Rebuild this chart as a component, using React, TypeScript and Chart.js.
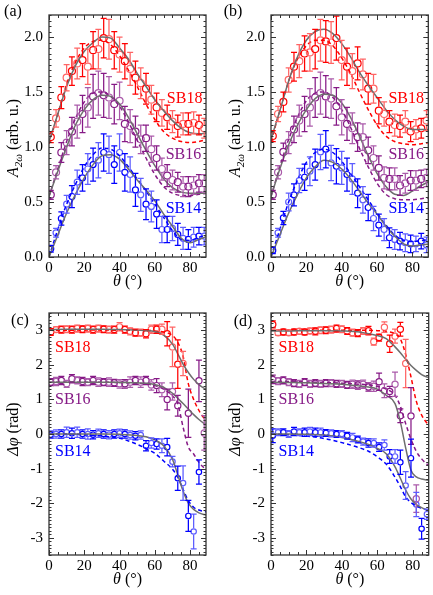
import React, { useEffect, useRef } from "react";
import { Chart, registerables } from "chart.js";
Chart.register(...registerables);

const SERIF = "'Liberation Serif', 'Times New Roman', Times, serif";

// ---------- shared axes ----------
const THETA = [1, 4, 7, 10, 13, 16, 19, 22, 25, 28, 31, 34, 37, 40, 43, 46, 49, 52, 55, 58, 61, 64, 67, 70, 73, 76, 79, 82, 85, 88];
const FIT_THETA_AMP = [0, 5, 10, 15, 20, 25, 30, 35, 40, 45, 50, 55, 60, 65, 70, 75, 80, 85, 90];
const FIT_THETA_PHASE = [0, 10, 20, 30, 40, 50, 55, 60, 65, 70, 73, 76, 79, 82, 85, 88, 90];
const THETA_TICKS = [0, 20, 40, 60, 80];
const AMP_TICKS = [0, 0.5, 1.0, 1.5, 2.0];
const PHASE_TICKS = [-3, -2, -1, 0, 1, 2, 3];

// ---------- panel (a) ----------
const A_SB18 = [1.09, 1.26, 1.45, 1.63, 1.69, 1.76, 1.79, 1.73, 1.88, 1.89, 1.99, 1.98, 1.88, 1.84, 1.78, 1.71, 1.63, 1.58, 1.53, 1.43, 1.36, 1.31, 1.27, 1.23, 1.19, 1.21, 1.21, 1.22, 1.2, 1.17];
const A_SB18_ERR = [0.05, 0.08, 0.1, 0.12, 0.13, 0.14, 0.15, 0.16, 0.17, 0.18, 0.18, 0.18, 0.17, 0.16, 0.16, 0.15, 0.15, 0.14, 0.14, 0.13, 0.13, 0.12, 0.11, 0.1, 0.1, 0.1, 0.1, 0.1, 0.09, 0.09];
const A_SB16 = [0.565, 0.77, 0.95, 1.04, 1.14, 1.23, 1.3, 1.36, 1.46, 1.49, 1.47, 1.45, 1.39, 1.42, 1.21, 1.19, 1.14, 1.07, 1.08, 0.98, 0.9, 0.8, 0.74, 0.7, 0.68, 0.64, 0.64, 0.65, 0.67, 0.67];
const A_SB16_ERR = [0.04, 0.06, 0.09, 0.11, 0.13, 0.15, 0.17, 0.18, 0.2, 0.2, 0.2, 0.19, 0.18, 0.17, 0.16, 0.15, 0.14, 0.13, 0.12, 0.12, 0.11, 0.1, 0.1, 0.09, 0.09, 0.09, 0.09, 0.08, 0.08, 0.08];
const A_SB14 = [0.075, 0.22, 0.35, 0.48, 0.55, 0.68, 0.72, 0.8, 0.84, 0.88, 0.95, 0.93, 0.84, 0.95, 0.77, 0.75, 0.61, 0.565, 0.48, 0.46, 0.39, 0.25, 0.25, 0.26, 0.205, 0.17, 0.16, 0.18, 0.19, 0.19];
const A_SB14_ERR = [0.03, 0.04, 0.06, 0.08, 0.1, 0.11, 0.12, 0.14, 0.15, 0.16, 0.17, 0.17, 0.17, 0.17, 0.17, 0.16, 0.15, 0.15, 0.14, 0.14, 0.13, 0.12, 0.12, 0.11, 0.1, 0.1, 0.09, 0.09, 0.08, 0.08];
const A_SB18_FIT = [1.05, 1.3, 1.55, 1.74, 1.87, 1.95, 2.0, 1.99, 1.9, 1.8, 1.67, 1.55, 1.43, 1.33, 1.24, 1.17, 1.13, 1.12, 1.13];
const A_SB18_MODEL = [1.03, 1.3, 1.57, 1.77, 1.9, 1.96, 1.97, 1.93, 1.83, 1.7, 1.55, 1.39, 1.25, 1.14, 1.08, 1.05, 1.04, 1.05, 1.07];
const A_SB16_FIT = [0.55, 0.78, 1.0, 1.2, 1.34, 1.43, 1.47, 1.46, 1.39, 1.27, 1.12, 0.97, 0.83, 0.71, 0.63, 0.59, 0.58, 0.58, 0.58];
const A_SB16_MODEL = [0.55, 0.8, 1.05, 1.26, 1.41, 1.49, 1.5, 1.46, 1.37, 1.23, 1.06, 0.9, 0.75, 0.64, 0.58, 0.56, 0.56, 0.57, 0.58];
const A_SB14_FIT = [0.0, 0.2, 0.4, 0.57, 0.72, 0.84, 0.92, 0.93, 0.89, 0.8, 0.7, 0.61, 0.51, 0.39, 0.28, 0.17, 0.13, 0.16, 0.19];
const A_SB14_MODEL = [0.0, 0.25, 0.48, 0.66, 0.82, 0.93, 0.99, 0.98, 0.92, 0.82, 0.71, 0.6, 0.48, 0.36, 0.24, 0.16, 0.15, 0.18, 0.2];

// ---------- panel (b) ----------
const B_SB18 = [1.1, 1.3, 1.41, 1.61, 1.73, 1.78, 1.85, 1.86, 1.89, 1.97, 1.96, 1.95, 1.99, 1.79, 1.73, 1.69, 1.76, 1.66, 1.53, 1.53, 1.33, 1.3, 1.23, 1.2, 1.19, 1.23, 1.14, 1.16, 1.17, 1.24];
const B_SB18_ERR = [0.05, 0.07, 0.09, 0.11, 0.13, 0.15, 0.16, 0.17, 0.18, 0.19, 0.19, 0.19, 0.2, 0.18, 0.17, 0.16, 0.15, 0.14, 0.14, 0.13, 0.12, 0.11, 0.1, 0.1, 0.1, 0.1, 0.09, 0.09, 0.09, 0.09];
const B_SB16 = [0.565, 0.77, 0.955, 1.04, 1.16, 1.24, 1.3, 1.36, 1.45, 1.49, 1.46, 1.44, 1.37, 1.27, 1.21, 1.17, 1.09, 1.09, 0.97, 0.9, 0.81, 0.72, 0.71, 0.71, 0.65, 0.67, 0.695, 0.695, 0.71, 0.72];
const B_SB16_ERR = [0.04, 0.06, 0.08, 0.1, 0.12, 0.14, 0.16, 0.17, 0.18, 0.19, 0.19, 0.18, 0.17, 0.16, 0.15, 0.14, 0.13, 0.12, 0.12, 0.11, 0.11, 0.1, 0.1, 0.1, 0.09, 0.09, 0.09, 0.09, 0.08, 0.08];
const B_SB14 = [0.06, 0.22, 0.355, 0.5, 0.565, 0.695, 0.725, 0.78, 0.84, 0.955, 0.98, 0.855, 0.825, 0.81, 0.75, 0.71, 0.58, 0.52, 0.45, 0.35, 0.29, 0.25, 0.175, 0.16, 0.145, 0.13, 0.12, 0.12, 0.145, 0.11];
const B_SB14_ERR = [0.03, 0.04, 0.06, 0.08, 0.1, 0.11, 0.12, 0.13, 0.14, 0.16, 0.17, 0.16, 0.16, 0.15, 0.15, 0.14, 0.13, 0.12, 0.12, 0.11, 0.1, 0.1, 0.09, 0.09, 0.08, 0.08, 0.08, 0.07, 0.07, 0.07];
const B_SB18_FIT = [1.07, 1.33, 1.6, 1.82, 1.97, 2.05, 2.07, 2.03, 1.94, 1.82, 1.68, 1.56, 1.45, 1.34, 1.25, 1.19, 1.16, 1.16, 1.16];
const B_SB18_MODEL = [1.05, 1.33, 1.6, 1.8, 1.92, 1.97, 1.97, 1.92, 1.81, 1.67, 1.5, 1.34, 1.2, 1.1, 1.05, 1.03, 1.02, 1.03, 1.04];
const B_SB16_FIT = [0.55, 0.8, 1.02, 1.2, 1.34, 1.44, 1.48, 1.47, 1.4, 1.27, 1.1, 0.92, 0.76, 0.64, 0.57, 0.56, 0.6, 0.65, 0.69];
const B_SB16_MODEL = [0.55, 0.82, 1.07, 1.27, 1.42, 1.49, 1.5, 1.45, 1.34, 1.18, 0.99, 0.82, 0.67, 0.57, 0.53, 0.52, 0.52, 0.53, 0.54];
const B_SB14_FIT = [0.0, 0.2, 0.4, 0.57, 0.72, 0.82, 0.88, 0.86, 0.8, 0.71, 0.6, 0.49, 0.39, 0.28, 0.19, 0.12, 0.1, 0.11, 0.12];
const B_SB14_MODEL = [0.0, 0.25, 0.5, 0.7, 0.86, 0.95, 0.98, 0.95, 0.87, 0.76, 0.64, 0.52, 0.4, 0.29, 0.2, 0.15, 0.14, 0.15, 0.16];

// ---------- panel (c) ----------
const C_SB18 = [2.95, 3.02, 3.02, 3.03, 3.02, 3.05, 3.03, 3.05, 3.02, 3.05, 3.03, 3.02, 3.02, 3.1, 3.02, 2.97, 2.93, 2.93, 2.9, 3.03, 3.03, 3.03, 2.9, 2.52, 2.02, 2.04, null, null, null, null];
const C_SB18_ERR = [0.1, 0.08, 0.1, 0.1, 0.1, 0.1, 0.1, 0.1, 0.1, 0.1, 0.1, 0.1, 0.1, 0.12, 0.1, 0.1, 0.1, 0.1, 0.12, 0.12, 0.12, 0.15, 0.35, 0.57, 0.7, 0.35, null, null, null, null];
const C_SB16 = [1.5, 1.52, 1.55, 1.45, 1.6, 1.55, 1.52, 1.5, 1.55, 1.5, 1.5, 1.5, 1.48, 1.45, 1.45, 1.5, 1.55, 1.5, 1.55, 1.42, 1.4, 1.28, 1.0, 1.23, 0.82, null, 0.6, null, 1.54, 0.03];
const C_SB16_ERR = [0.1, 0.12, 0.12, 0.1, 0.12, 0.1, 0.12, 0.1, 0.12, 0.12, 0.1, 0.12, 0.1, 0.12, 0.12, 0.15, 0.12, 0.15, 0.12, 0.15, 0.2, 0.2, 0.3, 0.25, 0.3, null, 0.7, null, 0.6, 0.5];
const C_SB14 = [-0.02, 0.0, 0.0, 0.05, 0.02, 0.05, 0.0, 0.0, -0.02, 0.02, 0.0, -0.02, 0.0, 0.02, 0.0, -0.03, -0.05, -0.03, -0.34, -0.26, -0.29, -0.34, -0.38, -0.8, -1.28, -1.42, -2.37, -2.82, -1.1, null];
const C_SB14_ERR = [0.1, 0.12, 0.12, 0.15, 0.15, 0.15, 0.12, 0.15, 0.12, 0.12, 0.12, 0.12, 0.12, 0.12, 0.12, 0.12, 0.12, 0.12, 0.15, 0.15, 0.15, 0.2, 0.25, 0.15, 0.35, 0.5, 0.45, 0.5, 0.35, null];
const C_SB18_FIT = [3.02, 3.03, 3.03, 3.03, 3.02, 3.01, 2.99, 2.96, 2.86, 2.6, 2.32, 2.02, 1.78, 1.58, 1.43, 1.32, 1.27];
const C_SB18_MODEL = [3.0, 3.0, 3.01, 3.01, 3.0, 3.0, 3.0, 2.98, 2.95, 2.85, 2.65, 2.25, 1.45, 1.0, 0.68, 0.45, 0.35];
const C_SB16_FIT = [1.5, 1.5, 1.5, 1.5, 1.49, 1.48, 1.47, 1.43, 1.35, 1.18, 1.03, 0.88, 0.72, 0.56, 0.42, 0.3, 0.24];
const C_SB16_MODEL = [1.5, 1.5, 1.5, 1.5, 1.49, 1.47, 1.45, 1.4, 1.3, 1.1, 0.88, 0.2, -0.38, -0.58, -0.82, -0.98, -1.02];
const C_SB14_FIT = [0.0, 0.0, 0.0, 0.0, -0.01, -0.04, -0.08, -0.17, -0.34, -0.73, -1.18, -1.65, -2.0, -2.18, -2.28, -2.33, -2.35];
const C_SB14_MODEL = [0.0, 0.0, -0.02, -0.06, -0.12, -0.3, -0.42, -0.56, -0.78, -1.02, -1.25, -1.6, -1.93, -2.12, -2.2, -2.24, -2.25];

// ---------- panel (d) ----------
const D_SB18 = [3.17, 2.93, 2.95, 2.93, 2.95, 2.97, 2.95, 2.98, 2.97, 3.0, 3.0, 3.02, 3.05, 3.03, 2.98, 2.93, 2.92, 2.98, 2.99, 2.67, 2.79, 3.09, 2.61, 2.83, 3.03, 2.04, null, null, null, null];
const D_SB18_ERR = [0.1, 0.08, 0.08, 0.08, 0.08, 0.08, 0.08, 0.08, 0.1, 0.1, 0.1, 0.1, 0.1, 0.1, 0.1, 0.1, 0.1, 0.1, 0.12, 0.1, 0.1, 0.15, 0.25, 0.2, 0.2, 0.7, null, null, null, null];
const D_SB16 = [1.58, 1.53, 1.55, 1.5, 1.47, 1.45, 1.5, 1.45, 1.47, 1.45, 1.47, 1.47, 1.45, 1.45, 1.42, 1.44, 1.42, 1.44, 1.36, 1.38, 1.51, 1.25, 1.23, 1.44, 0.53, null, 0.52, -1.87, null, null];
const D_SB16_ERR = [0.12, 0.1, 0.1, 0.1, 0.1, 0.1, 0.1, 0.1, 0.1, 0.1, 0.1, 0.1, 0.1, 0.1, 0.1, 0.12, 0.12, 0.12, 0.12, 0.15, 0.25, 0.2, 0.15, 0.35, 0.2, null, 0.82, 0.4, null, null];
const D_SB14 = [-0.05, 0.05, 0.05, 0.0, 0.07, 0.05, 0.05, 0.07, 0.05, 0.05, 0.03, 0.02, 0.0, 0.0, -0.05, -0.1, -0.16, -0.22, -0.26, -0.26, -0.38, -0.32, -0.65, -0.65, -0.82, -1.49, -0.7, -2.04, -2.74, -2.32];
const D_SB14_ERR = [0.2, 0.1, 0.1, 0.1, 0.12, 0.1, 0.12, 0.12, 0.12, 0.12, 0.1, 0.1, 0.1, 0.1, 0.1, 0.12, 0.1, 0.1, 0.12, 0.12, 0.12, 0.15, 0.2, 0.2, 0.35, 0.4, 0.55, 0.35, 0.3, 0.15];
const D_SB18_FIT = [2.98, 2.98, 2.99, 2.99, 2.98, 2.95, 2.9, 2.85, 2.76, 2.52, 2.35, 2.16, 1.98, 1.84, 1.72, 1.65, 1.62];
const D_SB18_MODEL = [3.0, 3.0, 3.0, 3.0, 3.0, 3.0, 3.0, 2.99, 2.97, 2.9, 2.75, 2.3, 1.65, 0.95, 0.55, 0.32, 0.24];
const D_SB16_FIT = [1.5, 1.49, 1.48, 1.46, 1.44, 1.39, 1.36, 1.3, 1.12, 0.88, 0.35, -0.4, -1.05, -1.24, -1.3, -1.33, -1.35];
const D_SB16_MODEL = [1.52, 1.52, 1.5, 1.49, 1.47, 1.44, 1.42, 1.38, 1.3, 1.12, 0.8, 0.3, -0.15, -0.5, -0.72, -0.87, -0.93];
const D_SB14_FIT = [0.0, 0.0, -0.01, -0.03, -0.1, -0.22, -0.3, -0.42, -0.57, -0.95, -1.28, -1.62, -1.88, -2.04, -2.13, -2.19, -2.21];
const D_SB14_MODEL = [0.0, -0.02, -0.06, -0.13, -0.25, -0.4, -0.5, -0.66, -0.87, -1.25, -1.52, -1.82, -1.98, -2.08, -2.15, -2.2, -2.22];

// ---------- styles ----------
const RED = "#ff0000";
const RED_LIGHT = "#ff6464";
const PURPLE = "#861a86";
const PURPLE_LIGHT = "#aa5aaa";
const BLUE = "#0000ff";
const BLUE_LIGHT = "#5c5cff";
const FIT_GRAY = "#6e6e6e";

type Series = {
  name: string;
  vals: (number | null)[];
  errs: (number | null)[];
  fit: number[];
  model: number[];
  dark: string;
  light: string;
  radius: number;
  labelAt: [number, number];
};

type PanelCfg = {
  letter: string;
  left: number;
  top: number;
  w: number;
  h: number;
  padTop: number;
  padRight: number;
  axisW: number;
  kind: "amp" | "phase";
  letterPos: [number, number];
  series: Series[];
};

function mk(name: string, vals: (number | null)[], errs: (number | null)[], fit: number[], model: number[], dark: string, light: string, radius: number, labelAt: [number, number]): Series {
  return { name, vals, errs, fit, model, dark, light, radius, labelAt };
}

const PANELS: PanelCfg[] = [
  {
    letter: "(a)", left: 0, top: 0, w: 216, h: 297, padTop: 3, padRight: 10, axisW: 49, kind: "amp", letterPos: [13, 12],
    series: [
      mk("SB18", A_SB18, A_SB18_ERR, A_SB18_FIT, A_SB18_MODEL, RED, RED_LIGHT, 3.5, [76.9, 1.44]),
      mk("SB16", A_SB16, A_SB16_ERR, A_SB16_FIT, A_SB16_MODEL, PURPLE, PURPLE_LIGHT, 3.5, [76.2, 0.93]),
      mk("SB14", A_SB14, A_SB14_ERR, A_SB14_FIT, A_SB14_MODEL, BLUE, BLUE_LIGHT, 3.0, [76.2, 0.44]),
    ],
  },
  {
    letter: "(b)", left: 216, top: 0, w: 217, h: 297, padTop: 3, padRight: 4, axisW: 55, kind: "amp", letterPos: [17, 12],
    series: [
      mk("SB18", B_SB18, B_SB18_ERR, B_SB18_FIT, B_SB18_MODEL, RED, RED_LIGHT, 3.5, [76.5, 1.44]),
      mk("SB16", B_SB16, B_SB16_ERR, B_SB16_FIT, B_SB16_MODEL, PURPLE, PURPLE_LIGHT, 3.5, [76.5, 0.93]),
      mk("SB14", B_SB14, B_SB14_ERR, B_SB14_FIT, B_SB14_MODEL, BLUE, BLUE_LIGHT, 3.0, [76.5, 0.44]),
    ],
  },
  {
    letter: "(c)", left: 0, top: 297, w: 216, h: 298, padTop: 16, padRight: 10, axisW: 49, kind: "phase", letterPos: [20, 24],
    series: [
      mk("SB18", C_SB18, C_SB18_ERR, C_SB18_FIT, C_SB18_MODEL, RED, RED_LIGHT, 3.1, [13.5, 2.49]),
      mk("SB16", C_SB16, C_SB16_ERR, C_SB16_FIT, C_SB16_MODEL, PURPLE, PURPLE_LIGHT, 3.1, [13.5, 0.98]),
      mk("SB14", C_SB14, C_SB14_ERR, C_SB14_FIT, C_SB14_MODEL, BLUE, BLUE_LIGHT, 2.7, [13.5, -0.52]),
    ],
  },
  {
    letter: "(d)", left: 216, top: 297, w: 217, h: 298, padTop: 16, padRight: 4, axisW: 55, kind: "phase", letterPos: [27, 25],
    series: [
      mk("SB18", D_SB18, D_SB18_ERR, D_SB18_FIT, D_SB18_MODEL, RED, RED_LIGHT, 3.1, [14.3, 2.49]),
      mk("SB16", D_SB16, D_SB16_ERR, D_SB16_FIT, D_SB16_MODEL, PURPLE, PURPLE_LIGHT, 3.1, [14.3, 0.98]),
      mk("SB14", D_SB14, D_SB14_ERR, D_SB14_FIT, D_SB14_MODEL, BLUE, BLUE_LIGHT, 2.7, [14.3, -0.52]),
    ],
  },
];

function range(a: number, b: number, step: number): number[] {
  const out: number[] = [];
  const n = Math.round((b - a) / step);
  for (let i = 0; i <= n; i++) out.push(+(a + i * step).toFixed(4));
  return out;
}

type Seg = { t: string; italic?: boolean; size: number; dy?: number };

function drawSegs(ctx: CanvasRenderingContext2D, segs: Seg[], cx: number, cy: number) {
  let total = 0;
  segs.forEach((s) => {
    ctx.font = `${s.italic ? "italic " : ""}${s.size}px ${SERIF}`;
    total += ctx.measureText(s.t).width;
  });
  let x = cx - total / 2;
  ctx.textAlign = "left";
  ctx.textBaseline = "alphabetic";
  segs.forEach((s) => {
    ctx.font = `${s.italic ? "italic " : ""}${s.size}px ${SERIF}`;
    ctx.fillText(s.t, x, cy + 5 + (s.dy || 0));
    x += ctx.measureText(s.t).width;
  });
}

const errorBarPlugin = {
  id: "errorBars",
  afterDatasetsDraw(chart: any) {
    const { ctx, chartArea: a } = chart;
    const ys = chart.scales.y;
    ctx.save();
    ctx.beginPath();
    ctx.rect(a.left, a.top, a.right - a.left, a.bottom - a.top);
    ctx.clip();
    chart.data.datasets.forEach((ds: any, di: number) => {
      if (!ds.errorBars) return;
      const meta = chart.getDatasetMeta(di);
      const r = ds.pointRadius + 0.6;
      meta.data.forEach((el: any, i: number) => {
        const raw = ds.data[i];
        if (!raw || raw.e == null) return;
        const x = el.x;
        const y = el.y;
        const yt = ys.getPixelForValue(raw.y + raw.e);
        const yb = ys.getPixelForValue(raw.y - raw.e);
        ctx.strokeStyle = raw.c;
        ctx.lineWidth = 1.25;
        ctx.beginPath();
        if (y - r > yt) { ctx.moveTo(x, yt); ctx.lineTo(x, y - r); }
        if (y + r < yb) { ctx.moveTo(x, y + r); ctx.lineTo(x, yb); }
        ctx.moveTo(x - 3, yt); ctx.lineTo(x + 3, yt);
        ctx.moveTo(x - 3, yb); ctx.lineTo(x + 3, yb);
        ctx.stroke();
      });
    });
    ctx.restore();
  },
};

const decorPlugin = {
  id: "decor",
  afterDraw(chart: any, _args: any, opts: any) {
    const { ctx, chartArea: a } = chart;
    const xs = chart.scales.x;
    const ys = chart.scales.y;
    ctx.save();
    ctx.strokeStyle = "#333";
    ctx.lineWidth = 1.3;
    ctx.strokeRect(a.left, a.top, a.right - a.left, a.bottom - a.top);
    ctx.lineWidth = 1;
    ctx.beginPath();
    opts.xMinor.forEach((v: number) => {
      const p = Math.round(xs.getPixelForValue(v)) + 0.5;
      const L = opts.xMajor.includes(v) ? 5 : 3;
      ctx.moveTo(p, a.bottom); ctx.lineTo(p, a.bottom - L);
      ctx.moveTo(p, a.top); ctx.lineTo(p, a.top + L);
    });
    opts.yMinor.forEach((v: number) => {
      const p = Math.round(ys.getPixelForValue(v)) + 0.5;
      const L = opts.yMajor.some((m: number) => Math.abs(m - v) < 1e-6) ? 5 : 2.5;
      ctx.moveTo(a.left, p); ctx.lineTo(a.left + L, p);
      ctx.moveTo(a.right, p); ctx.lineTo(a.right - L, p);
    });
    ctx.stroke();

    ctx.textAlign = "center";
    ctx.textBaseline = "middle";
    ctx.font = `16px ${SERIF}`;
    opts.labels.forEach((l: any) => {
      ctx.fillStyle = l.color;
      ctx.fillText(l.text, xs.getPixelForValue(l.at[0]), ys.getPixelForValue(l.at[1]));
    });

    ctx.fillStyle = "#000";
    ctx.font = `16px ${SERIF}`;
    ctx.fillText(opts.letter, opts.letterPos[0], opts.letterPos[1]);

    drawSegs(ctx, [{ t: "θ", italic: true, size: 16 }, { t: " (°)", size: 16 }], (a.left + a.right) / 2, a.bottom + 24);

    ctx.save();
    const cy = (a.top + a.bottom) / 2 + opts.yTitleShift;
    ctx.translate(a.left - 36, cy);
    ctx.rotate(-Math.PI / 2);
    drawSegs(ctx, opts.yTitle, 0, 0);
    ctx.restore();

    ctx.restore();
  },
};

function buildConfig(p: PanelCfg): any {
  const isAmp = p.kind === "amp";
  const datasets: any[] = [];
  p.series.forEach((s) => {
    const pts: any[] = [];
    s.vals.forEach((v, i) => {
      if (v == null) return;
      pts.push({ x: THETA[i], y: v, e: s.errs[i], c: i % 2 === 0 ? s.dark : s.light });
    });
    datasets.push({
      data: pts,
      showLine: false,
      pointRadius: s.radius,
      pointHoverRadius: s.radius,
      pointBorderWidth: 1.2,
      pointBackgroundColor: "rgba(0,0,0,0)",
      pointBorderColor: (ctx: any) => (ctx.raw && ctx.raw.c) || s.dark,
      errorBars: true,
      order: 2,
    });
  });
  const fitTheta = isAmp ? FIT_THETA_AMP : FIT_THETA_PHASE;
  p.series.forEach((s) => {
    datasets.push({
      data: s.model.map((v, i) => ({ x: fitTheta[i], y: v })),
      showLine: true,
      borderColor: s.dark,
      borderWidth: 1.5,
      borderDash: [4, 3],
      pointRadius: 0,
      cubicInterpolationMode: "monotone",
      order: 1,
    });
    datasets.push({
      data: s.fit.map((v, i) => ({ x: fitTheta[i], y: v })),
      showLine: true,
      borderColor: FIT_GRAY,
      borderWidth: 1.5,
      pointRadius: 0,
      cubicInterpolationMode: "monotone",
      order: 0,
    });
  });

  const yTicks = isAmp ? AMP_TICKS : PHASE_TICKS;
  const yTitle: Seg[] = isAmp
    ? [{ t: "A", italic: true, size: 16 }, { t: "2ω", italic: true, size: 11, dy: 4 }, { t: " (arb. u.)", size: 16 }]
    : [{ t: "Δφ", italic: true, size: 16 }, { t: " (rad)", size: 16 }];

  return {
    type: "scatter",
    data: { datasets },
    options: {
      responsive: false,
      maintainAspectRatio: false,
      animation: false,
      devicePixelRatio: 1,
      events: [],
      layout: { padding: { left: 0, top: p.padTop, right: p.padRight, bottom: 0 } },
      plugins: {
        legend: { display: false },
        tooltip: { enabled: false },
        decor: {
          xMajor: THETA_TICKS,
          xMinor: range(0, 85, 5),
          yMajor: yTicks,
          yMinor: isAmp ? range(0, 2.2, 0.05) : range(-3.5, 3.5, 0.1),
          labels: p.series.map((s) => ({ text: s.name, color: s.dark, at: s.labelAt })),
          letter: p.letter,
          letterPos: p.letterPos,
          yTitle,
          yTitleShift: isAmp ? 2 : -5,
        },
      },
      scales: {
        x: {
          type: "linear",
          min: 0,
          max: 89,
          grid: { display: false, drawTicks: false },
          border: { display: false },
          ticks: { font: { family: SERIF, size: 15 }, color: "#000", padding: 2, autoSkip: false, maxRotation: 0 },
          afterBuildTicks: (s: any) => { s.ticks = THETA_TICKS.map((v) => ({ value: v })); },
          afterFit: (s: any) => { s.height = 40; },
        },
        y: {
          type: "linear",
          min: isAmp ? 0 : -3.5,
          max: isAmp ? 2.2 : 3.5,
          grid: { display: false, drawTicks: false },
          border: { display: false },
          ticks: {
            font: { family: SERIF, size: 15 },
            color: "#000",
            padding: 6,
            autoSkip: false,
            callback: (v: any) => (isAmp ? Number(v).toFixed(1) : String(v)),
          },
          afterBuildTicks: (s: any) => { s.ticks = yTicks.map((v) => ({ value: v })); },
          afterFit: (s: any) => { s.width = p.axisW; },
        },
      },
    },
    plugins: [errorBarPlugin, decorPlugin],
  };
}

function Panel({ cfg }: { cfg: PanelCfg }) {
  const ref = useRef<HTMLCanvasElement>(null);
  useEffect(() => {
    if (!ref.current) return;
    const chart = new Chart(ref.current, buildConfig(cfg));
    return () => chart.destroy();
  }, [cfg]);
  return (
    <canvas
      ref={ref}
      width={cfg.w}
      height={cfg.h}
      style={{ position: "absolute", left: cfg.left, top: cfg.top, width: cfg.w, height: cfg.h }}
    />
  );
}

export default function App() {
  return (
    <div style={{ position: "absolute", left: 0, top: 0, width: 433, height: 595, background: "#fff", overflow: "hidden" }}>
      {PANELS.map((p) => (
        <Panel key={p.letter} cfg={p} />
      ))}
    </div>
  );
}
